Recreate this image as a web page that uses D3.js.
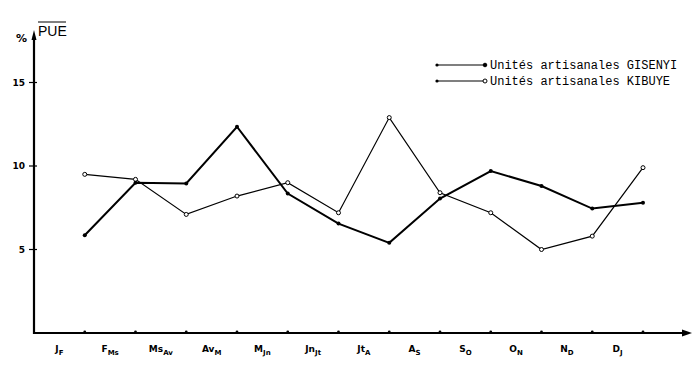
<!DOCTYPE html>
<html>
<head>
<meta charset="utf-8">
<script src="https://cdn.jsdelivr.net/npm/d3@7"></script>
<style>
  body { margin: 0; background: #fff; }
  text { font-family: "DejaVu Sans", sans-serif; fill: #000; }
  .legend text { font-family: "Liberation Mono", monospace; font-size: 12px; }
</style>
</head>
<body>
<div id="chart"></div>
<script>
// periods (main letter + subscript)
var periodMain = ["J", "F", "Ms", "Av", "M", "Jn", "Jt", "A", "S", "O", "N", "D"];
var periodSub  = ["F", "Ms", "Av", "M", "Jn", "Jt", "A", "S", "O", "N", "D", "J"];
var periods = periodMain.map(function (m, i) { return m + "_" + periodSub[i]; });

var gisenyi = [5.85, 9.0, 8.95, 12.35, 8.35, 6.55, 5.4, 8.05, 9.7, 8.8, 7.45, 7.8];
var kibuye  = [9.5, 9.2, 7.1, 8.2, 9.0, 7.2, 12.9, 8.4, 7.2, 5.0, 5.8, 9.9];

var yTicks = [5, 10, 15];
var seriesNames = ["Unités artisanales GISENYI", "Unités artisanales KIBUYE"];

var width = 700, height = 370;
var x0 = 34, x1 = 643, yBase = 333;

var svg = d3.select("#chart").append("svg")
  .attr("width", width)
  .attr("height", height);

// band per period, point sits at the right edge of its band
var x = d3.scaleBand().domain(periods).range([x0, x1]).padding(0);
var px = function (i) { return x(periods[i]) + x.bandwidth(); };

var y = d3.scaleLinear().domain([0, 10]).range([yBase, 166]);

// x axis with arrow
svg.append("line")
  .attr("x1", x0 - 1).attr("x2", 684)
  .attr("y1", yBase).attr("y2", yBase)
  .attr("stroke", "#000").attr("stroke-width", 2.2);
svg.append("path")
  .attr("d", "M682,329.5 L692,333 L682,336.5 Z")
  .attr("fill", "#000");

// y axis
svg.append("line")
  .attr("x1", x0).attr("x2", x0)
  .attr("y1", yBase + 1).attr("y2", 36)
  .attr("stroke", "#000").attr("stroke-width", 2.2);
svg.append("path")
  .attr("d", "M31.5,40 L34,30 L36.5,40 Z")
  .attr("fill", "#000");

// x ticks (small dots on axis)
svg.append("g").selectAll("circle")
  .data(periods)
  .enter()
  .append("circle")
  .attr("cx", function (d) { return x(d) + x.bandwidth(); })
  .attr("cy", yBase - 1)
  .attr("r", 1.4)
  .attr("fill", "#000");

// x labels centred in each band
var xl = svg.append("g").selectAll("text")
  .data(periods)
  .enter()
  .append("text")
  .attr("x", function (d) { return x(d) + x.bandwidth() / 2; })
  .attr("y", 352)
  .attr("text-anchor", "middle")
  .style("font-size", "9px")
  .style("font-weight", "bold");
xl.append("tspan").text(function (d, i) { return periodMain[i]; });
xl.append("tspan")
  .attr("dy", 3)
  .style("font-size", "7px")
  .text(function (d, i) { return periodSub[i]; });

// y ticks
svg.append("g").selectAll("line")
  .data(yTicks)
  .enter()
  .append("line")
  .attr("x1", x0 - 5).attr("x2", x0 + 3)
  .attr("y1", function (d) { return y(d); })
  .attr("y2", function (d) { return y(d); })
  .attr("stroke", "#000").attr("stroke-width", 1.2);

svg.append("g").selectAll("text")
  .data(yTicks)
  .enter()
  .append("text")
  .attr("x", 25)
  .attr("y", function (d) { return y(d) + 3; })
  .attr("text-anchor", "end")
  .style("font-size", "9px")
  .style("font-weight", "bold")
  .text(function (d) { return d; });

// axis title
svg.append("text")
  .attr("x", 16).attr("y", 42)
  .style("font-size", "11px")
  .style("font-weight", "bold")
  .text("%");
svg.append("text")
  .attr("x", 38).attr("y", 36)
  .style("font-size", "14px")
  .style("font-family", "'Liberation Sans', sans-serif")
  .text("PUE");
svg.append("line")
  .attr("x1", 38).attr("x2", 66)
  .attr("y1", 22).attr("y2", 22)
  .attr("stroke", "#000").attr("stroke-width", 1);

var line = d3.line()
  .x(function (d, i) { return px(i); })
  .y(function (d) { return y(d); });

// KIBUYE (thin, open circles)
svg.append("path")
  .datum(kibuye)
  .attr("d", line)
  .attr("fill", "none")
  .attr("stroke", "#000")
  .attr("stroke-width", 1.2);
svg.append("g").selectAll("circle")
  .data(kibuye)
  .enter()
  .append("circle")
  .attr("cx", function (d, i) { return px(i); })
  .attr("cy", function (d) { return y(d); })
  .attr("r", 2)
  .attr("fill", "#fff")
  .attr("stroke", "#000")
  .attr("stroke-width", 1);

// GISENYI (thick, filled dots)
svg.append("path")
  .datum(gisenyi)
  .attr("d", line)
  .attr("fill", "none")
  .attr("stroke", "#000")
  .attr("stroke-width", 2);
svg.append("g").selectAll("circle")
  .data(gisenyi)
  .enter()
  .append("circle")
  .attr("cx", function (d, i) { return px(i); })
  .attr("cy", function (d) { return y(d); })
  .attr("r", 2)
  .attr("fill", "#000");

// legend
var legend = svg.append("g").attr("class", "legend");
seriesNames.forEach(function (name, i) {
  var ly = 65 + i * 16;
  legend.append("line")
    .attr("x1", 437).attr("x2", 484)
    .attr("y1", ly).attr("y2", ly)
    .attr("stroke", "#000").attr("stroke-width", 1.2);
  legend.append("circle")
    .attr("cx", 437).attr("cy", ly).attr("r", 1.6)
    .attr("fill", "#000");
  legend.append("circle")
    .attr("cx", 485).attr("cy", ly).attr("r", i == 0 ? 1.8 : 2)
    .attr("fill", i == 0 ? "#000" : "#fff")
    .attr("stroke", "#000").attr("stroke-width", 1);
  legend.append("text")
    .attr("x", 490).attr("y", ly + 4)
    .text(name);
});
</script>
</body>
</html>
